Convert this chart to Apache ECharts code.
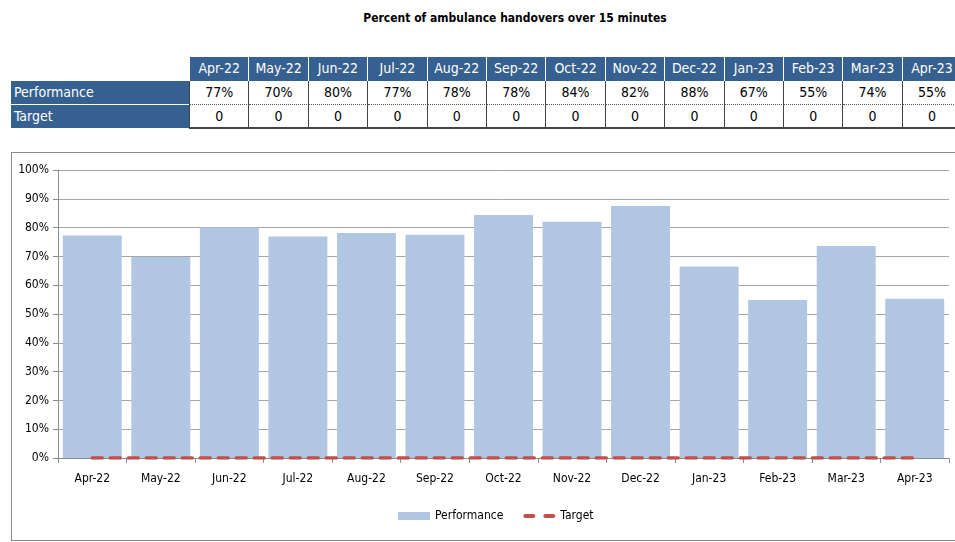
<!DOCTYPE html>
<html>
<head>
<meta charset="utf-8">
<script src="https://cdn.jsdelivr.net/npm/echarts@6/dist/echarts.min.js"></script>
<style>
  html, body { margin: 0; padding: 0; background: #fff; }
  body { width: 955px; height: 542px; position: relative; overflow: hidden;
         font-family: "DejaVu Sans Condensed", "Liberation Sans Narrow", sans-serif; }
  #title { position: absolute; left: 0; width: 1030px; top: 11px; text-align: center;
           font-size: 12px; font-weight: bold; color: #000; }
  .cell { position: absolute; box-sizing: border-box; font-size: 14px; line-height: 23px; text-align: center; }
  .hdr { background: #36608f; color: #fff; border-right: 1px solid #fff; }
  .lbl { background: #36608f; color: #fff; text-align: left; padding-left: 3px; }
  .val { background: #fff; color: #000; border-right: 1px solid #444; }
  #chart { position: absolute; left: 11px; top: 152px; width: 960px; height: 389px;
           box-sizing: border-box; border: 1px solid #8c8c8c; }
</style>
</head>
<body>
<div id="title">Percent of ambulance handovers over 15 minutes</div>
<div id="table"></div>
<div id="chart"></div>
<script>
// data
const months = ['Apr-22', 'May-22', 'Jun-22', 'Jul-22', 'Aug-22', 'Sep-22', 'Oct-22',
                'Nov-22', 'Dec-22', 'Jan-23', 'Feb-23', 'Mar-23', 'Apr-23'];
const performance = [0.773, 0.698, 0.80, 0.769, 0.781, 0.775, 0.844, 0.82, 0.875, 0.665, 0.549, 0.736, 0.553];
const target = [0, 0, 0, 0, 0, 0, 0, 0, 0, 0, 0, 0, 0];
const rowLabels = ['Performance', 'Target'];

// table above the chart
(function buildTable() {
    const box = document.getElementById('table');
    const x0 = 190, colW = 59.4, top = 57, rowH = 24;
    let html = '';
    months.forEach((m, i) => {
        const x = x0 + i * colW;
        html += `<div class="cell hdr" style="left:${x}px;top:${top}px;width:${colW}px;height:${rowH}px">${m}</div>`;
        html += `<div class="cell val" style="left:${x}px;top:${top + rowH}px;width:${colW}px;height:${rowH}px;border-bottom:1px dotted #555">${Math.round(performance[i] * 100)}%</div>`;
        html += `<div class="cell val" style="left:${x}px;top:${top + 2 * rowH}px;width:${colW}px;height:${rowH}px;border-bottom:2px solid #444">${target[i]}</div>`;
    });
    rowLabels.forEach((r, j) => {
        html += `<div class="cell lbl" style="left:11px;top:${top + (j + 1) * rowH}px;width:179px;height:${rowH}px;border-bottom:1px solid #fff">${r}</div>`;
    });
    // left border of data block
    html += `<div style="position:absolute;left:189px;top:${top + rowH}px;width:1px;height:${2 * rowH}px;background:#444"></div>`;
    box.innerHTML = html;
})();

const font = '"DejaVu Sans Condensed", "Liberation Sans Narrow", sans-serif';
const chart = echarts.init(document.getElementById('chart'));
chart.setOption({
    animation: false,
    textStyle: { fontFamily: font },
    grid: { left: 46, right: 21, top: 17, bottom: 82 },
    legend: {
        bottom: 13,
        left: 381,
        itemGap: 20,
        itemWidth: 32,
        itemHeight: 8,
        textStyle: { fontSize: 12, color: '#000', fontFamily: font },
        data: [
            { name: 'Performance', icon: 'rect' },
            {
                name: 'Target',
                icon: 'path://M2,0H10A2,2 0 0 1 10,4H2A2,2 0 0 1 2,0Z M22,0H30A2,2 0 0 1 30,4H22A2,2 0 0 1 22,0Z',
                itemHeight: 4
            }
        ]
    },
    xAxis: {
        type: 'category',
        data: months,
        axisLine: { lineStyle: { color: '#8c8c8c' } },
        axisTick: { show: true, length: 5, lineStyle: { color: '#8c8c8c' } },
        axisLabel: { color: '#000', fontSize: 12, margin: 15, fontFamily: font }
    },
    yAxis: {
        type: 'value',
        min: 0,
        max: 1,
        interval: 0.1,
        axisLine: { show: true, lineStyle: { color: '#8c8c8c' } },
        axisTick: { show: true, length: 5, lineStyle: { color: '#8c8c8c' } },
        splitLine: { lineStyle: { color: '#a6a6a6' } },
        axisLabel: {
            color: '#000', fontSize: 12, margin: 9, fontFamily: font,
            formatter: v => Math.round(v * 100) + '%'
        }
    },
    series: [
        {
            name: 'Performance',
            type: 'bar',
            data: performance,
            barCategoryGap: '14%',
            itemStyle: { color: '#b0c6e2' }
        },
        {
            name: 'Target',
            type: 'line',
            data: target,
            symbol: 'none',
            itemStyle: { color: '#c0504d' },
            lineStyle: { color: '#c0504d', width: 3.5, type: [10, 8], cap: 'round' }
        }
    ]
});
</script>
</body>
</html>
